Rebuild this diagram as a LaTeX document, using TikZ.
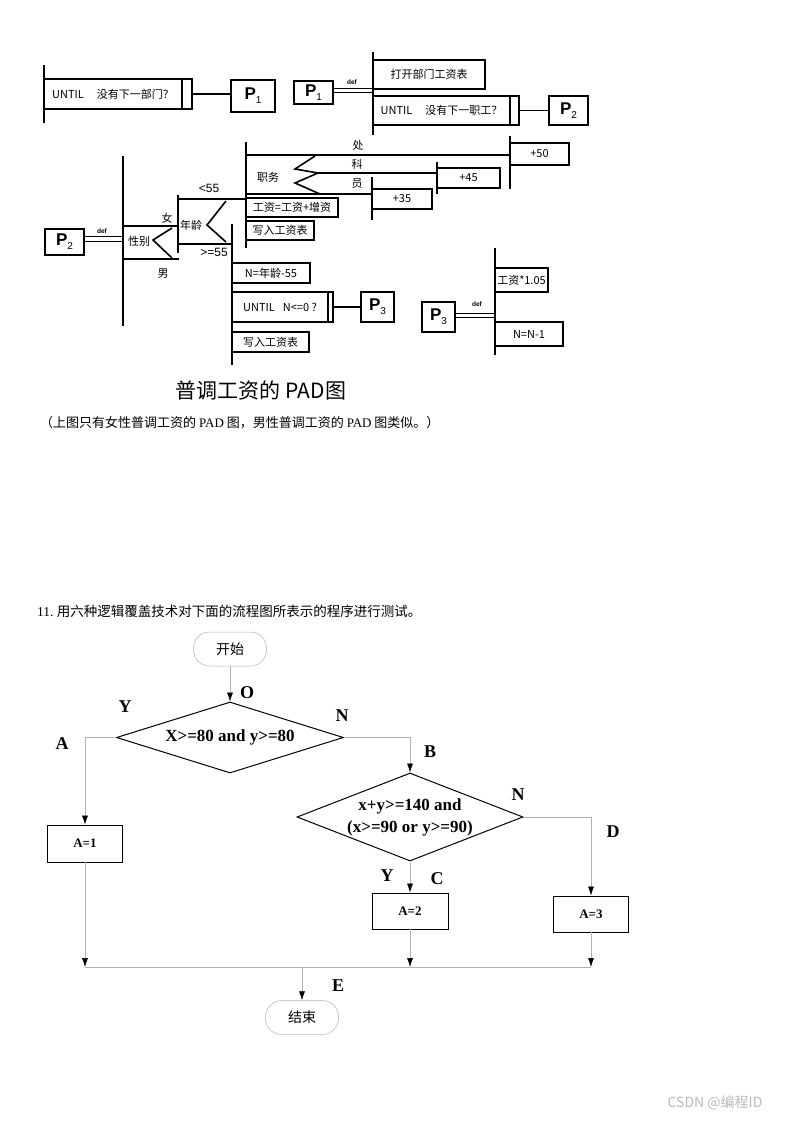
\documentclass[tikz,border=0pt]{standalone}
\usepackage{fontspec}
\setmainfont{Liberation Serif}
\newfontfamily\hei{Noto Sans CJK SC}
\newfontfamily\arial{Liberation Sans}
\usepackage{tikz}
\usetikzlibrary{arrows.meta,shapes.geometric}

\tikzset{
	padbar/.style={line width=2.2pt},
	padsel/.style={line width=1.6pt},
	padbox/.style={draw, line width=1.2pt, inner sep=0.5pt, font=\hei\fontsize{11}{12}\selectfont},
	padtext/.style={inner sep=0pt, font=\hei\fontsize{11}{12}\selectfont},
	padnum/.style={inner sep=0pt, font=\arial\fontsize{12}{12}\selectfont},
	defline/.style={line width=1pt},
	deflabel/.style={inner sep=0pt, font=\arial\bfseries\fontsize{6.5}{7}\selectfont},
	fline/.style={draw=gray!60, line width=0.6pt},
	farrow/.style={fline, -{Latex[color=black,length=9pt,width=6pt]}},
	fbox/.style={draw, line width=0.8pt, font=\bfseries\fontsize{13}{14}\selectfont},
	term/.style={draw=gray!60, line width=0.5pt, rounded corners=16pt, minimum width=73, minimum height=34, font=\hei\fontsize{14}{14}\selectfont},
	dec/.style={diamond, draw, line width=1pt, inner sep=0pt, align=center, font=\bfseries\fontsize{17}{22}\selectfont},
	lbl/.style={inner sep=0pt, font=\bfseries\fontsize{18}{18}\selectfont}
}
% box from (x1,y1) to (x2,y2), y counted downwards
\newcommand{\padbox}[6]{\node[padbox, minimum width={#4-#2}, minimum height={#5-#3}] (#1) at ({(#2+#4)/2},{(#3+#5)/2}) {#6};}
\newcommand{\pname}[1]{{\arial\fontsize{17}{17}\selectfont\bfseries P}\raisebox{-4pt}{\arial\fontsize{10}{10}\selectfont #1}}

\begin{document}
\begin{tikzpicture}[x=1pt,y=-1pt]
	%\draw[help lines] (0,0) grid[step=50] (794,1123);
	\useasboundingbox (0,0) rectangle (794,1123);

	% PAD: P1, P2
	\draw[padbar] (44,65) -- (44,123);
	\padbox{u1}{44}{79}{182}{109}{UNTIL\hspace{13pt}没有下一部门？}
	\padbox{u1e}{182}{79}{192}{109}{}
	\padbox{p1a}{231}{80}{275}{112}{\pname{1}}
	\draw[padsel] (u1e.east) -- (u1e.east -| p1a.west);
	\padbox{p1b}{294}{81}{333}{104}{\pname{1}}
	\draw[defline] ([yshift=3.5pt]p1b.east) -- ++(40,0);
	\draw[defline] ([yshift=-0.5pt]p1b.east) -- ++(40,0);
	\node[deflabel] (def1) at (352,82) {def};
	\draw[padbar] (373,52) -- (373,135);
	\padbox{open}{373}{60}{485}{89}{打开部门工资表}
	\padbox{u2}{373}{96}{510}{125}{UNTIL\hspace{13pt}没有下一职工？}
	\padbox{u2e}{510}{96}{519}{125}{}
	\padbox{p2a}{549}{96}{588}{125}{\pname{2}}
	\draw[padsel] (u2e.east) -- (u2e.east -| p2a.west);

	% PAD: P2 def
	\padbox{p2b}{45}{229}{84}{255}{\pname{2}}
	\draw[defline] ([yshift=5pt]p2b.east) -- ++(39,0);
	\draw[defline] ([yshift=1pt]p2b.east) -- ++(39,0);
	\node[deflabel] (def2) at (102,231) {def};
	\draw[padbar] (123,156) -- (123,326);
	\draw[padsel] (123,226) -- (178,226);
	\draw[padsel] (123,259) -- (179,259);
	\draw[padsel] (172,228) -- (153,240) -- (172,258);
	\node[padtext] (sex) at (139,241) {性别};
	\node[padtext] (female) at (167,218) {女};
	\node[padtext] (male) at (163,274) {男};

	\draw[padbar] (178,195) -- (178,253);
	\draw[padsel] (178,199) -- (246,199);
	\draw[padsel] (178,244) -- (232,244);
	\draw[padsel] (226,201) -- (207,225) -- (226,242);
	\node[padtext] (age) at (191,225) {年龄};
	\node[padnum] (lt55) at (209,188) {<55};
	\node[padnum] (ge55) at (214,252) {>=55};

	% <55
	\draw[padbar] (246,142) -- (246,248);
	\draw[padsel] (246,155) -- (510,155);
	\draw[padsel] (318,173) -- (437,173);
	\draw[padsel] (246,194) -- (372,194);
	\draw[padsel] (315,156) -- (295,169) -- (318,173) -- (295,183) -- (320,194);
	\node[padtext] (duty) at (268,177) {职务};
	\node[padtext] (chu) at (358,145) {处};
	\node[padtext] (ke) at (357,164) {科};
	\node[padtext] (yuan) at (357,184) {员};
	\draw[padbar] (510,136) -- (510,189);
	\padbox{add50}{510}{143}{569}{165}{+50}
	\draw[padbar] (437,162) -- (437,194);
	\padbox{add45}{437}{168}{500}{188}{+45}
	\draw[padbar] (372,177) -- (372,220);
	\padbox{add35}{372}{189}{432}{209}{+35}
	\padbox{raise}{246}{198}{338}{217}{工资=工资+增资}
	\padbox{write1}{246}{221}{314}{240}{写入工资表}

	% >=55
	\draw[padbar] (232,224) -- (232,365);
	\padbox{nage}{232}{263}{310}{283}{N=年龄-55}
	\padbox{u3}{232}{292}{328}{322}{UNTIL\hspace{8pt}N<=0 ?}
	\padbox{u3e}{328}{292}{333}{322}{}
	\padbox{p3a}{361}{292}{394}{322}{\pname{3}}
	\draw[padsel] (u3e.east) -- (u3e.east -| p3a.west);
	\padbox{write2}{232}{332}{309}{352}{写入工资表}

	% PAD: P3 def
	\padbox{p3b}{422}{302}{455}{332}{\pname{3}}
	\draw[defline] ([yshift=4pt]p3b.east) -- ++(40,0);
	\draw[defline] ([yshift=0pt]p3b.east) -- ++(40,0);
	\node[deflabel] (def3) at (477,304) {def};
	\draw[padbar] (495,248) -- (495,355);
	\padbox{times}{495}{268}{548}{292}{工资*1.05}
	\padbox{dec1}{495}{322}{563}{346}{N=N-1}

	\node[inner sep=0pt, font=\hei\fontsize{21}{21}\selectfont] (title) at (261,390) {普调工资的 PAD图};
	\node[anchor=west, inner sep=0pt, font=\hei\fontsize{13}{13}\selectfont] (note) at (40,423) {（上图只有女性普调工资的 {\rmfamily PAD} 图，男性普调工资的 {\rmfamily PAD} 图类似。）};

	% flow chart
	\node[anchor=west, inner sep=0pt, font=\fontsize{13.5}{13.5}\selectfont] (task) at (37,611) {11.~{\hei 用六种逻辑覆盖技术对下面的流程图所表示的程序进行测试。}};
	\node[term] (start) at (230,649) {开始};
	\node[dec, aspect=3.2, minimum width=227, minimum height=71] (d1) at (230,737.5) {X>=80 and y>=80};
	\node[dec, aspect=2.57, minimum width=226, minimum height=88] (d2) at (410,817) {x+y>=140 and\\(x>=90 or y>=90)};
	\node[fbox, minimum width=75, minimum height=37] (a1) at (85,843.5) {A=1};
	\node[fbox, minimum width=76, minimum height=36] (a2) at (410,911) {A=2};
	\node[fbox, minimum width=75, minimum height=36] (a3) at (591,914) {A=3};
	\node[term] (stop) at (302,1017.5) {结束};
	\coordinate (merge) at (0,967);

	\draw[farrow] (start) -- (d1);
	\draw[farrow] (d1.west) -| (a1.north);
	\draw[farrow] (d1.east) -| (d2.north);
	\draw[farrow] (d2.south) -- (a2.north);
	\draw[farrow] (d2.east) -| (a3.north);
	\draw[farrow] (a1.south) -- (a1.south |- merge);
	\draw[farrow] (a2.south) -- (a2.south |- merge);
	\draw[farrow] (a3.south) -- (a3.south |- merge);
	\draw[fline] (a1.south |- merge) -- (a3.south |- merge);
	\draw[farrow] (stop.north |- merge) -- (stop.north);

	\node[lbl] (lO) at (247,693) {O};
	\node[lbl] (lY1) at (125,707) {Y};
	\node[lbl] (lN1) at (342,716) {N};
	\node[lbl] (lA) at (62,744) {A};
	\node[lbl] (lB) at (430,752) {B};
	\node[lbl] (lN2) at (518,795) {N};
	\node[lbl] (lD) at (613,832) {D};
	\node[lbl] (lY2) at (387,876) {Y};
	\node[lbl] (lC) at (437,879) {C};
	\node[lbl] (lE) at (338,986) {E};

	\node[inner sep=0pt, text=gray!55, font=\hei\fontsize{14}{14}\selectfont] (mark) at (715,1103) {CSDN @编程ID};
\end{tikzpicture}
\end{document}
